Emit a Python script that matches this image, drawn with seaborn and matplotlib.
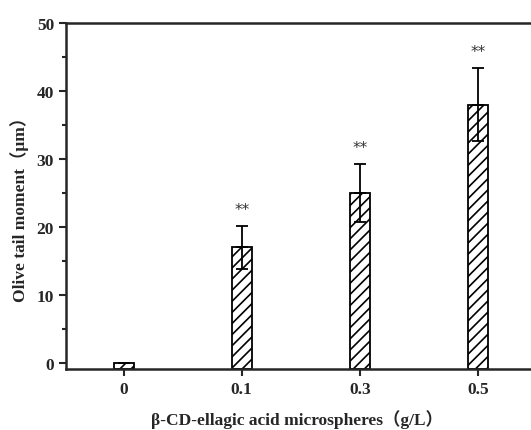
import numpy as np
import pandas as pd
import matplotlib
matplotlib.use('Agg')
import matplotlib.pyplot as plt
import seaborn as sns
from matplotlib.ticker import MultipleLocator

# ====================== data ======================
doses = ['0', '0.1', '0.3', '0.5']
tail_moment = [0.0, 17.0, 25.0, 38.0]
tail_err = [0.0, 3.2, 4.3, 5.4]
marks = ['', '**', '**', '**']

sns.set_style("ticks")
plt.rcParams['font.family'] = ['Liberation Serif', 'Noto Sans CJK SC']
plt.rcParams['hatch.linewidth'] = 1.2

df = pd.DataFrame({'dose': doses, 'value': tail_moment})

fig = plt.figure(figsize=(5.31, 4.31), dpi=100)
ax = fig.add_axes([0.124, 0.1415, 0.887, 0.803])

sns.barplot(data=df, x='dose', y='value', order=doses, ax=ax, width=0.17,
            color='white', edgecolor='black', linewidth=1.3, errorbar=None, hatch='///')

ymin = -0.88
# bars start at the bottom axis (Origin style)
for p in ax.patches:
    h = p.get_height()
    p.set_y(ymin)
    p.set_height(h - ymin)

xs = np.arange(len(doses))
ax.errorbar(xs, tail_moment, yerr=[np.zeros(len(doses)), tail_err], fmt='none',
            ecolor='black', elinewidth=1.3, capsize=4, capthick=1.3)
ax.errorbar(xs, tail_moment, yerr=[tail_err, np.zeros(len(doses))], fmt='none',
            ecolor='black', elinewidth=1.3, capsize=4, capthick=1.3)

for x, v, e, m in zip(xs, tail_moment, tail_err, marks):
    if m:
        ax.text(x, v + e + 1.3, m, ha='center', va='bottom', fontsize=11,
                family='DejaVu Sans', color='#333333')

ax.set_xlim(-0.49, 3.5)
ax.set_ylim(ymin, 50)
ax.yaxis.set_major_locator(MultipleLocator(10))
ax.yaxis.set_minor_locator(MultipleLocator(5))
ax.tick_params(axis='both', which='major', direction='out', length=5, width=1.5,
               labelsize=12.5)
ax.tick_params(axis='y', which='minor', direction='out', length=3, width=1.5)
for lab in ax.get_xticklabels() + ax.get_yticklabels():
    lab.set_fontweight('bold')

for s in ['left', 'bottom', 'top']:
    ax.spines[s].set_linewidth(1.8)
ax.spines['right'].set_visible(False)

ax.set_xlabel('β-CD-ellagic acid microspheres（g/L）', fontsize=12.5, fontweight='bold')
ax.set_ylabel('Olive tail moment（μm）', fontsize=12.5, fontweight='bold')
ax.xaxis.set_label_coords(0.49, -0.117)
ax.yaxis.set_label_coords(-0.078, 0.475)

plt.savefig('out.png', dpi=100)
plt.close()
